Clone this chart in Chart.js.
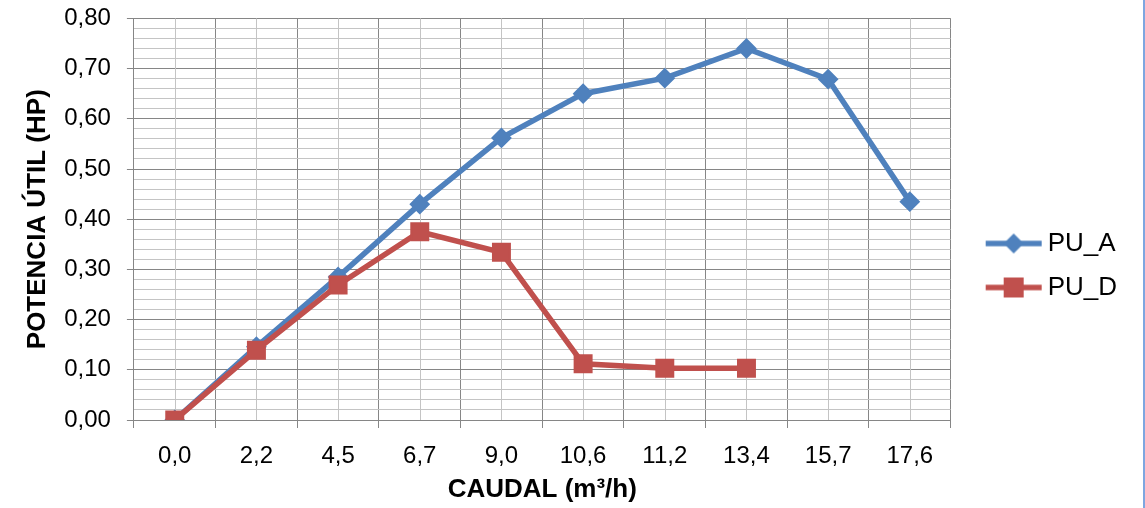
<!DOCTYPE html>
<html lang="es">
  <head>
    <meta charset="UTF-8" />
    <title>Potencia útil vs caudal</title>
    <script src="https://cdn.jsdelivr.net/npm/chart.js"></script>
    <style>
      body { margin: 0; background: #fff; }
      .wrap {
        position: relative;
        width: 1143px;
        height: 508px;
        border-right: 2px solid #7ea6e0;
      }
    </style>
  </head>
  <body>
    <div class="wrap">
      <canvas id="puChart"></canvas>
    </div>
    <script>
      // caudal (m3/h)
      const caudal = ["0,0", "2,2", "4,5", "6,7", "9,0", "10,6", "11,2", "13,4", "15,7", "17,6"];
      // potencia útil (HP)
      const puA = [0.0, 0.146, 0.285, 0.43, 0.562, 0.65, 0.681, 0.74, 0.679, 0.435];
      const puD = [0.0, 0.139, 0.269, 0.375, 0.334, 0.112, 0.103, 0.103, null, null];

      const AZUL = "#4f81bd";
      const ROJO = "#c0504d";
      const FONT = "'Liberation Sans', Arial, sans-serif";

      const isMajor = (v) => Math.abs(v * 10 - Math.round(v * 10)) < 1e-6;

      // icono de leyenda: línea con marcador (margen vacío a la izquierda)
      function legendIcon(color, shape) {
        const c = document.createElement("canvas");
        c.width = 88;
        c.height = 24;
        const g = c.getContext("2d");
        g.strokeStyle = color;
        g.fillStyle = color;
        g.lineWidth = 5.5;
        g.beginPath();
        g.moveTo(28, 12);
        g.lineTo(84, 12);
        g.stroke();
        g.beginPath();
        if (shape === "diamond") {
          g.moveTo(56, 2);
          g.lineTo(66, 12);
          g.lineTo(56, 22);
          g.lineTo(46, 12);
          g.closePath();
        } else {
          g.rect(46, 2, 20, 20);
        }
        g.fill();
        return c;
      }
      const iconA = legendIcon(AZUL, "diamond");
      const iconD = legendIcon(ROJO, "square");

      // líneas verticales claras en el centro de cada categoría
      const centerLines = {
        id: "centerLines",
        beforeDatasetsDraw(chart) {
          const { ctx, chartArea, scales } = chart;
          ctx.save();
          ctx.strokeStyle = "#c4c4c4";
          ctx.lineWidth = 1;
          caudal.forEach((_, i) => {
            const x = Math.round(scales.x.getPixelForValue(i)) + 0.5;
            ctx.beginPath();
            ctx.moveTo(x, chartArea.top);
            ctx.lineTo(x, chartArea.bottom);
            ctx.stroke();
          });
          ctx.restore();
        },
      };

      new Chart(document.getElementById("puChart"), {
        type: "line",
        data: {
          labels: caudal,
          datasets: [
            {
              label: "PU_A",
              data: puA,
              borderColor: AZUL,
              backgroundColor: AZUL,
              borderWidth: 5.5,
              pointStyle: "rectRot",
              pointRadius: 9,
              pointBorderWidth: 2,
              tension: 0,
              order: 2,
            },
            {
              label: "PU_D",
              data: puD,
              borderColor: ROJO,
              backgroundColor: ROJO,
              borderWidth: 5.5,
              pointStyle: "rect",
              pointRadius: 12,
              pointBorderWidth: 2,
              tension: 0,
              spanGaps: false,
              order: 1,
            },
          ],
        },
        options: {
          responsive: true,
          maintainAspectRatio: false,
          animation: false,
          layout: { padding: { left: 10, right: 16, top: -4, bottom: 3 } },
          plugins: {
            tooltip: { enabled: false },
            legend: {
              position: "right",
              title: { display: true, text: "", padding: 0, font: { size: 25 } },
              labels: {
                usePointStyle: true,
                pointStyleWidth: 66,
                boxHeight: 20,
                padding: 18,
                color: "#000",
                font: { family: FONT, size: 26 },
                generateLabels: (chart) =>
                  chart.data.datasets.map((ds, i) => ({
                    text: ds.label,
                    pointStyle: i === 0 ? iconA : iconD,
                    fillStyle: ds.borderColor,
                    strokeStyle: ds.borderColor,
                    lineWidth: 0,
                    fontColor: "#000",
                    datasetIndex: i,
                  })),
              },
            },
          },
          scales: {
            x: {
              offset: true,
              grid: {
                offset: true,
                color: "#868686",
                tickColor: "#868686",
                tickLength: 8,
              },
              border: { color: "#868686", width: 1 },
              ticks: {
                autoSkip: false,
                maxRotation: 0,
                color: "#000",
                padding: 14,
                font: { family: FONT, size: 24 },
              },
              title: {
                display: true,
                text: "CAUDAL (m³/h)",
                color: "#000",
                font: { family: FONT, size: 26, weight: "bold" },
                padding: { top: -11, bottom: 0 },
              },
            },
            y: {
              min: 0,
              max: 0.8,
              grid: {
                color: (c) => (isMajor(c.tick.value) ? "#868686" : "#c4c4c4"),
                tickColor: (c) => (isMajor(c.tick.value) ? "#868686" : "rgba(0,0,0,0)"),
                tickLength: 7,
              },
              border: { color: "#868686", width: 1 },
              ticks: {
                stepSize: 0.02,
                autoSkip: false,
                color: "#000",
                padding: 16,
                font: { family: FONT, size: 24, lineHeight: 0.2 },
                callback: (v) => (isMajor(v) ? v.toFixed(2).replace(".", ",") : ""),
              },
              title: {
                display: true,
                text: "POTENCIA ÚTIL (HP)",
                color: "#000",
                font: { family: FONT, size: 26, weight: "bold" },
                padding: { top: 12, bottom: -5 },
              },
            },
          },
        },
        plugins: [centerLines],
      });
    </script>
  </body>
</html>
